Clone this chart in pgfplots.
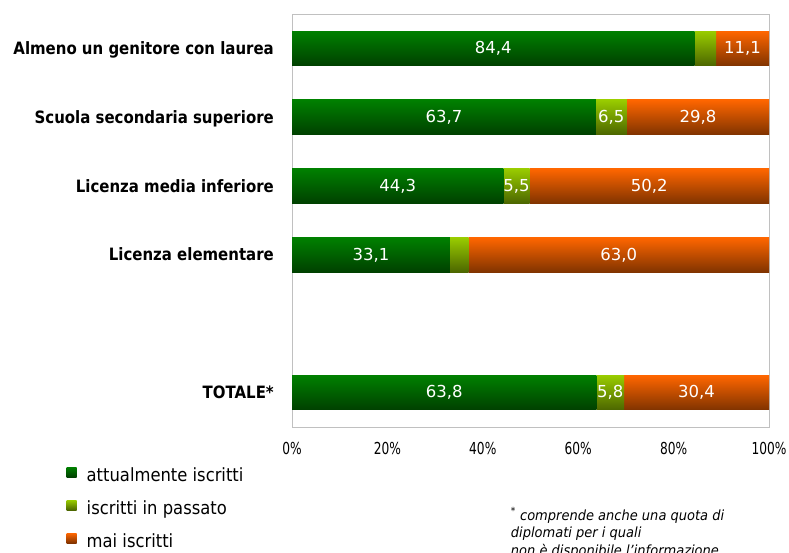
\documentclass[border=0pt]{standalone}
\usepackage{fontspec}
\setmainfont{DejaVu Sans}
\newfontfamily\catfont[FakeStretch=0.88]{DejaVu Sans}
\newfontfamily\legfont[FakeStretch=0.9]{DejaVu Sans}
\newfontfamily\tickfont[FakeStretch=0.74]{DejaVu Sans}
\newfontfamily\notefont[FakeStretch=0.93]{DejaVu Sans}
\usepackage{pgfplots}
\pgfplotsset{compat=1.18}
\definecolor{gT}{RGB}{0,128,0}
\definecolor{gB}{RGB}{0,64,0}
\definecolor{lT}{RGB}{153,204,0}
\definecolor{lB}{RGB}{76,102,0}
\definecolor{oT}{RGB}{255,102,0}
\definecolor{oB}{RGB}{128,51,0}
\definecolor{frame}{RGB}{192,192,192}
\pgfplotsset{
  base/.style={
    at={(292bp,126bp)}, anchor=south west,
    scale only axis, width=477bp, height=413bp,
    xbar stacked, bar width=34.7bp,
    xmin=0, xmax=100, ymin=-0.5, ymax=5.5,
    point meta=explicit symbolic,
    nodes near coords,
    every node near coord/.append style={font=\fontsize{16.5bp}{16.5bp}\selectfont, text=white},
  },
  hidden/.style={base, axis lines=none, ticks=none},
  sA/.style={draw=none, top color=gT, bottom color=gB},
  sB/.style={draw=none, top color=lT, bottom color=lB},
  sC/.style={draw=none, top color=oT, bottom color=oB},
}
\begin{document}
\begin{tikzpicture}
\useasboundingbox (0,0) rectangle (789bp,553bp);
% Almeno un genitore con laurea (with frame, ticks and legend)
\begin{axis}[base,
  axis line style={draw=frame},
  major tick length=0pt,
  xtick={0,20,40,60,80,100},
  xticklabels={0\%,20\%,40\%,60\%,80\%,100\%},
  xticklabel style={font=\tickfont\fontsize{16.5bp}{16.5bp}\selectfont, inner sep=0pt, anchor=base, yshift=-27bp},
  ytick={0,2,3,4,5},
  yticklabels={TOTALE*,Licenza elementare,Licenza media inferiore,Scuola secondaria superiore,Almeno un genitore con laurea},
  yticklabel style={font=\catfont\bfseries\fontsize{17bp}{17bp}\selectfont, inner sep=0pt, anchor=base east, xshift=-18bp, yshift=-6bp},
  legend style={at={(axis description cs:-0.4723,-0.097)}, anchor=north west, draw=none, fill=none,
    inner sep=0pt, outer sep=0pt, row sep=14.5bp, column sep=10bp,
    nodes={inner sep=0pt, text height=13bp, text depth=4bp, font=\legfont\fontsize{18.2bp}{18.2bp}\selectfont}},
  legend cell align=left,
]
\addplot[sA, legend image code/.code={\shade[top color=gT,bottom color=gB] (0bp,0bp) rectangle (10bp,10bp);}]
  coordinates {(84.4,5) [84{,}4]};
\addplot[sB, legend image code/.code={\shade[top color=lT,bottom color=lB] (0bp,0bp) rectangle (10bp,10bp);}]
  coordinates {(4.5,5) []};
\addplot[sC, legend image code/.code={\shade[top color=oT,bottom color=oB] (0bp,0bp) rectangle (10bp,10bp);}]
  coordinates {(11.1,5) [11{,}1]};
\legend{attualmente iscritti, iscritti in passato, mai iscritti}
\end{axis}
% Scuola secondaria superiore
\begin{axis}[hidden]
\addplot[sA] coordinates {(63.7,4) [63{,}7]};
\addplot[sB] coordinates {(6.5,4) [6{,}5]};
\addplot[sC] coordinates {(29.8,4) [29{,}8]};
\end{axis}
% Licenza media inferiore
\begin{axis}[hidden]
\addplot[sA] coordinates {(44.3,3) [44{,}3]};
\addplot[sB] coordinates {(5.5,3) [5{,}5]};
\addplot[sC] coordinates {(50.2,3) [50{,}2]};
\end{axis}
% Licenza elementare
\begin{axis}[hidden]
\addplot[sA] coordinates {(33.1,2) [33{,}1]};
\addplot[sB] coordinates {(3.9,2) []};
\addplot[sC] coordinates {(63.0,2) [63{,}0]};
\end{axis}
% TOTALE*
\begin{axis}[hidden]
\addplot[sA] coordinates {(63.8,0) [63{,}8]};
\addplot[sB] coordinates {(5.8,0) [5{,}8]};
\addplot[sC] coordinates {(30.4,0) [30{,}4]};
\end{axis}
\begin{scope}[every node/.style={anchor=base west, inner sep=0pt, font=\notefont\itshape\fontsize{14bp}{14bp}\selectfont}]
\node at (510.7bp,33bp) {\textsuperscript{*} comprende anche una quota di};
\node at (510.7bp,15.5bp) {diplomati per i quali};
\node at (510.7bp,-2bp) {non è disponibile l’informazione};
\end{scope}
\end{tikzpicture}
\end{document}
